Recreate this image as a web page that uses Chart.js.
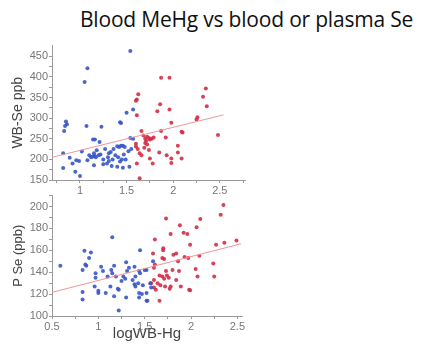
<!DOCTYPE html>
<html>
<head>
<meta charset="utf-8">
<script src="https://cdn.jsdelivr.net/npm/chart.js@4"></script>
<style>
  body { margin: 0; background: #fff; width: 427px; height: 347px; position: relative; overflow: hidden; }
  #title { position: absolute; left: 80px; top: 5px; font: 21px 'Open Sans', sans-serif; letter-spacing: -0.2px; color: #111; white-space: nowrap; }
  canvas { position: absolute; left: 0; }
</style>
</head>
<body>
<div id="title">Blood MeHg vs blood or plasma Se</div>
<canvas id="wbChart" width="260" height="160" style="top:38px"></canvas>
<canvas id="pChart" width="260" height="159" style="top:188px"></canvas>
<script>
// top panel: whole-blood Se vs log WB-Hg
const wbSeBlue = [
  [1.54,463],[1.08,421],[1.05,388],[0.85,292],[0.86,285],[0.84,281],[0.83,269],[1.07,281],
  [1.43,290],[1.44,288],[1.50,313],[1.57,321],[1.23,279],[1.14,248],[1.16,248],[1.21,242],
  [1.54,252],[1.57,250],[0.82,215],[1.02,219],[0.89,204],[0.96,198],[0.99,196],[0.92,190],
  [0.82,179],[0.95,170],[1.00,160],[1.10,210],[1.12,205],[1.14,207],[1.16,208],[1.17,205],
  [1.15,215],[1.18,222],[1.20,210],[1.22,212],[1.25,200],[1.27,225],[1.30,205],[1.31,215],
  [1.33,218],[1.35,200],[1.36,225],[1.38,210],[1.40,232],[1.42,230],[1.44,233],[1.46,233],
  [1.48,230],[1.41,205],[1.43,195],[1.45,200],[1.47,212],[1.15,186],[1.29,190],[1.31,196],
  [1.40,182],[1.46,180],[1.53,182],[1.49,200],[1.52,220],[1.55,225],[1.08,198],[1.25,188],[1.34,184]
];
const wbSeRed = [
  [1.625,358],[1.60,342],[1.61,345],[1.61,307],[1.66,269],[1.68,258],[1.70,250],[1.71,245],
  [1.72,255],[1.74,252],[1.75,248],[1.77,250],[1.79,253],[1.70,240],[1.60,231],[1.62,225],
  [1.60,238],[1.64,215],[1.61,190],[1.64,154],[1.66,210],[1.87,398],[1.96,398],[2.35,372],
  [2.32,352],[2.36,329],[1.86,334],[1.83,317],[1.96,321],[1.98,289],[2.25,297],[2.26,302],
  [1.87,269],[2.09,267],[2.10,265],[2.48,259],[1.92,253],[1.74,223],[1.85,217],[2.05,233],
  [2.05,217],[1.75,202],[1.93,210],[1.98,202],[2.09,202],[1.78,190],[1.98,191],[1.72,236],[1.69,228]
];
const wbSeFit = [[0.7,205],[2.54,308]];

// bottom panel: plasma Se vs log WB-Hg
const pSeBlue = [
  [0.59,146],[0.85,159.5],[0.92,158],[0.90,153],[0.86,147],[0.87,146],[0.83,142],[1.15,172],
  [1.45,160],[1.03,145],[1.17,146],[1.30,149],[0.97,139],[0.97,135],[1.05,141],[1.14,142],
  [1.15,139],[1.10,136],[1.19,136],[1.33,144],[1.31,141],[1.39,145],[1.27,136],[1.29,134],
  [1.44,141],[1.45,139],[1.52,142],[0.96,127],[0.83,122],[0.83,115],[1.00,123],[1.00,121],
  [1.08,121],[1.13,127],[1.21,125],[1.22,124],[1.17,118],[1.30,117],[1.22,105],[1.40,127],
  [1.44,121],[1.47,120],[1.52,121],[1.44,117],[1.52,114],[1.37,133],[1.40,136],[1.25,132],
  [1.59,150],[1.39,129],[1.43,130],[1.48,128],[1.56,130],[1.57,126],[1.53,114],[1.50,142]
];
const pSeRed = [
  [2.35,201.5],[2.32,192.5],[1.73,189],[2.10,188.6],[1.88,183],[2.06,181],[1.92,176],[1.96,175],
  [1.78,175],[1.61,170],[1.99,165],[2.27,165],[2.36,167],[2.49,169],[1.70,162],[1.84,157],
  [1.81,156],[1.70,160],[1.59,157],[1.69,153],[1.71,152],[1.93,154],[2.09,155],[1.86,150],
  [1.97,153],[2.24,148],[1.80,142],[1.87,141],[2.05,143],[1.61,147],[1.60,144],[1.73,141],
  [1.66,137],[1.69,136],[1.71,134],[1.74,137],[1.76,135],[1.60,133],[1.84,133],[2.07,136],
  [2.25,136],[1.57,130],[1.64,130],[1.67,128],[1.72,127],[1.60,126],[1.62,124],[1.78,127],
  [1.77,125],[1.89,127],[1.98,124],[1.99,123.5],[1.66,114]
];
const pSeFit = [[0.5,121.6],[2.54,166]];

// axis ticks (labels only on the majors)
const wbXTicks = [0.75, 1, 1.25, 1.5, 1.75, 2, 2.25, 2.5, 2.75];
const wbYTicks = [150, 175, 200, 225, 250, 275, 300, 325, 350, 375, 400, 425, 450];
const pXTicks = [0.5, 0.75, 1, 1.25, 1.5, 1.75, 2, 2.25, 2.5];
const pYTicks = [100, 110, 120, 130, 140, 150, 160, 170, 180, 190, 200, 210];

const BLUE = 'rgba(55,85,200,0.9)';
const RED = 'rgba(210,45,70,0.9)';
const FIT = 'rgba(240,150,150,1)';
const AXIS = '#9a9a9a';
const tickFont = { family: "'Liberation Sans', sans-serif", size: 11 };

const pts = (arr) => arr.map(([x, y]) => ({ x, y }));

function scatterSet(data, color) {
  return { type: 'scatter', data: pts(data), backgroundColor: color, borderWidth: 0, pointRadius: 2 };
}
function fitSet(data) {
  return { type: 'line', data: pts(data), borderColor: FIT, borderWidth: 1, pointRadius: 0, fill: false };
}

function axis(ticks, opts) {
  return {
    type: 'linear',
    min: opts.min,
    max: opts.max,
    afterBuildTicks: (s) => { s.ticks = ticks.map((v) => ({ value: v })); },
    afterFit: (s) => { if (opts.width) s.width = opts.width; if (opts.height) s.height = opts.height; },
    border: { color: AXIS, width: 1 },
    grid: { drawOnChartArea: false, tickLength: 3, color: AXIS },
    ticks: {
      autoSkip: false, maxRotation: 0, padding: opts.pad || 1, color: '#777', font: tickFont,
      callback: (v) => (opts.major(v) ? String(v) : '')
    },
    title: opts.title
      ? { display: true, text: opts.title, color: '#444', padding: opts.titlePad,
          font: { family: "'Liberation Sans', sans-serif", size: opts.titleSize } }
      : { display: false }
  };
}

const common = {
  responsive: false,
  animation: false,
  plugins: { legend: { display: false }, tooltip: { enabled: false } }
};

new Chart(document.getElementById('wbChart'), {
  data: { datasets: [fitSet(wbSeFit), scatterSet(wbSeBlue, BLUE), scatterSet(wbSeRed, RED)] },
  options: {
    ...common,
    layout: { padding: { top: 5, right: 15, left: 0, bottom: 0 } },
    scales: {
      x: axis(wbXTicks, { min: 0.7, max: 2.77, height: 18, pad: 0, major: (v) => v % 0.5 === 0 }),
      y: axis(wbYTicks, { min: 150, max: 476, width: 52, major: (v) => v % 50 === 0,
                          title: 'WB-Se ppb', titleSize: 14, titlePad: { top: 10, bottom: 0 } })
    }
  }
});

new Chart(document.getElementById('pChart'), {
  data: { datasets: [fitSet(pSeFit), scatterSet(pSeBlue, BLUE), scatterSet(pSeRed, RED)] },
  options: {
    ...common,
    layout: { padding: { top: 7, right: 18, left: 0, bottom: 0 } },
    scales: {
      x: axis(pXTicks, { min: 0.5, max: 2.55, height: 31, pad: 0, major: (v) => v % 0.5 === 0,
                         title: 'logWB-Hg', titleSize: 15, titlePad: { top: 0, bottom: 4 } }),
      y: axis(pYTicks, { min: 100, max: 210, width: 52, major: (v) => v % 20 === 0,
                         title: 'P Se (ppb)', titleSize: 13, titlePad: { top: 11, bottom: 0 } })
    }
  }
});
</script>
</body>
</html>
